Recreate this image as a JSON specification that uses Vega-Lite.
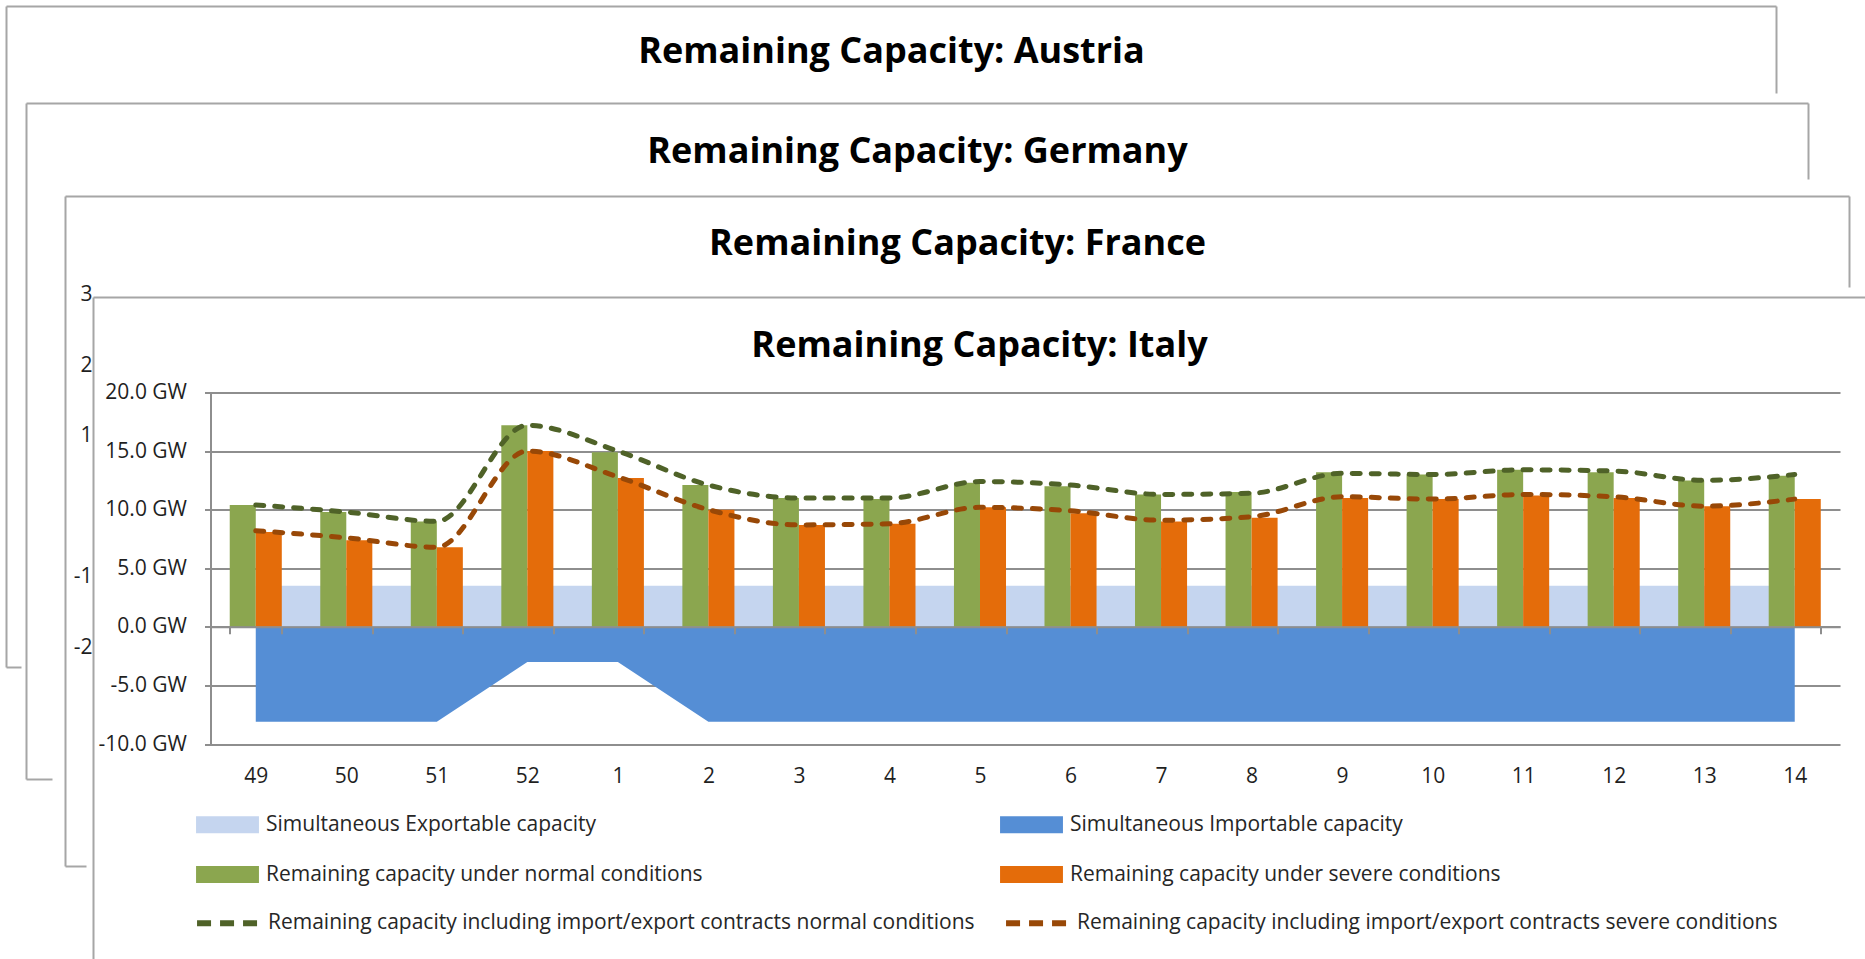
{
  "$schema": "https://vega.github.io/schema/vega-lite/v6.json",
  "autosize": {"type": "none"},
  "padding": {"left": 210.5, "top": 392.5, "right": 25, "bottom": 215},
  "width": 1629.5,
  "height": 351.5,
  "background": "white",
  "config": {"font": "Open Sans", "view": {"stroke": null}},
  "datasets": {
    "italy": [
      {"week": "49", "Simultaneous Exportable capacity": 3.5, "Simultaneous Importable capacity": -8.1, "Remaining capacity under normal conditions": 10.4, "Remaining capacity under severe conditions": 8.1, "Remaining capacity including import/export contracts normal conditions": 10.4, "Remaining capacity including import/export contracts severe conditions": 8.2},
      {"week": "50", "Simultaneous Exportable capacity": 3.5, "Simultaneous Importable capacity": -8.1, "Remaining capacity under normal conditions": 9.8, "Remaining capacity under severe conditions": 7.4, "Remaining capacity including import/export contracts normal conditions": 9.8, "Remaining capacity including import/export contracts severe conditions": 7.6},
      {"week": "51", "Simultaneous Exportable capacity": 3.5, "Simultaneous Importable capacity": -8.1, "Remaining capacity under normal conditions": 9.0, "Remaining capacity under severe conditions": 6.8, "Remaining capacity including import/export contracts normal conditions": 9.0, "Remaining capacity including import/export contracts severe conditions": 6.8},
      {"week": "52", "Simultaneous Exportable capacity": 3.5, "Simultaneous Importable capacity": -3.0, "Remaining capacity under normal conditions": 17.2, "Remaining capacity under severe conditions": 15.0, "Remaining capacity including import/export contracts normal conditions": 17.2, "Remaining capacity including import/export contracts severe conditions": 15.0},
      {"week": "1", "Simultaneous Exportable capacity": 3.5, "Simultaneous Importable capacity": -3.0, "Remaining capacity under normal conditions": 14.9, "Remaining capacity under severe conditions": 12.7, "Remaining capacity including import/export contracts normal conditions": 15.0, "Remaining capacity including import/export contracts severe conditions": 12.8},
      {"week": "2", "Simultaneous Exportable capacity": 3.5, "Simultaneous Importable capacity": -8.1, "Remaining capacity under normal conditions": 12.1, "Remaining capacity under severe conditions": 10.0, "Remaining capacity including import/export contracts normal conditions": 12.1, "Remaining capacity including import/export contracts severe conditions": 10.0},
      {"week": "3", "Simultaneous Exportable capacity": 3.5, "Simultaneous Importable capacity": -8.1, "Remaining capacity under normal conditions": 11.0, "Remaining capacity under severe conditions": 8.7, "Remaining capacity including import/export contracts normal conditions": 11.0, "Remaining capacity including import/export contracts severe conditions": 8.7},
      {"week": "4", "Simultaneous Exportable capacity": 3.5, "Simultaneous Importable capacity": -8.1, "Remaining capacity under normal conditions": 10.9, "Remaining capacity under severe conditions": 8.8, "Remaining capacity including import/export contracts normal conditions": 11.0, "Remaining capacity including import/export contracts severe conditions": 8.8},
      {"week": "5", "Simultaneous Exportable capacity": 3.5, "Simultaneous Importable capacity": -8.1, "Remaining capacity under normal conditions": 12.3, "Remaining capacity under severe conditions": 10.2, "Remaining capacity including import/export contracts normal conditions": 12.4, "Remaining capacity including import/export contracts severe conditions": 10.2},
      {"week": "6", "Simultaneous Exportable capacity": 3.5, "Simultaneous Importable capacity": -8.1, "Remaining capacity under normal conditions": 12.0, "Remaining capacity under severe conditions": 9.7, "Remaining capacity including import/export contracts normal conditions": 12.1, "Remaining capacity including import/export contracts severe conditions": 9.9},
      {"week": "7", "Simultaneous Exportable capacity": 3.5, "Simultaneous Importable capacity": -8.1, "Remaining capacity under normal conditions": 11.3, "Remaining capacity under severe conditions": 9.0, "Remaining capacity including import/export contracts normal conditions": 11.3, "Remaining capacity including import/export contracts severe conditions": 9.1},
      {"week": "8", "Simultaneous Exportable capacity": 3.5, "Simultaneous Importable capacity": -8.1, "Remaining capacity under normal conditions": 11.5, "Remaining capacity under severe conditions": 9.3, "Remaining capacity including import/export contracts normal conditions": 11.4, "Remaining capacity including import/export contracts severe conditions": 9.4},
      {"week": "9", "Simultaneous Exportable capacity": 3.5, "Simultaneous Importable capacity": -8.1, "Remaining capacity under normal conditions": 13.2, "Remaining capacity under severe conditions": 11.0, "Remaining capacity including import/export contracts normal conditions": 13.1, "Remaining capacity including import/export contracts severe conditions": 11.1},
      {"week": "10", "Simultaneous Exportable capacity": 3.5, "Simultaneous Importable capacity": -8.1, "Remaining capacity under normal conditions": 13.0, "Remaining capacity under severe conditions": 10.9, "Remaining capacity including import/export contracts normal conditions": 13.0, "Remaining capacity including import/export contracts severe conditions": 10.9},
      {"week": "11", "Simultaneous Exportable capacity": 3.5, "Simultaneous Importable capacity": -8.1, "Remaining capacity under normal conditions": 13.4, "Remaining capacity under severe conditions": 11.2, "Remaining capacity including import/export contracts normal conditions": 13.4, "Remaining capacity including import/export contracts severe conditions": 11.3},
      {"week": "12", "Simultaneous Exportable capacity": 3.5, "Simultaneous Importable capacity": -8.1, "Remaining capacity under normal conditions": 13.2, "Remaining capacity under severe conditions": 11.0, "Remaining capacity including import/export contracts normal conditions": 13.3, "Remaining capacity including import/export contracts severe conditions": 11.1},
      {"week": "13", "Simultaneous Exportable capacity": 3.5, "Simultaneous Importable capacity": -8.1, "Remaining capacity under normal conditions": 12.5, "Remaining capacity under severe conditions": 10.3, "Remaining capacity including import/export contracts normal conditions": 12.5, "Remaining capacity including import/export contracts severe conditions": 10.3},
      {"week": "14", "Simultaneous Exportable capacity": 3.5, "Simultaneous Importable capacity": -8.1, "Remaining capacity under normal conditions": 12.9, "Remaining capacity under severe conditions": 10.9, "Remaining capacity including import/export contracts normal conditions": 13.0, "Remaining capacity including import/export contracts severe conditions": 10.9}
    ]
  },
  "layer": [
    {
      "data": {"values": []},
      "mark": "point",
      "encoding": {
        "x": {"field": "a", "type": "quantitative", "scale": {"domain": [0, 1], "range": [-204.5, 1565.5]},
          "axis": {"orient": "top", "offset": 386.5, "domain": true, "domainColor": "#a6a6a6", "domainWidth": 2, "ticks": false, "labels": false, "grid": false,
            "title": "Remaining Capacity: Austria", "titleFont": "Open Sans", "titleFontWeight": "bold", "titleFontSize": 36, "titleColor": "#000000", "titleBaseline": "middle", "titleAlign": "center", "titleAnchor": "middle", "titleY": 45}},
        "y": {"field": "b", "type": "quantitative", "scale": {"domain": [0, 1], "range": [274.5, -386.5]},
          "axis": {"orient": "left", "offset": 204.5, "domain": true, "domainColor": "#a6a6a6", "domainWidth": 2, "ticks": false, "labels": false, "grid": false, "title": null}}
      }
    },
    {
      "data": {"values": []},
      "mark": "point",
      "encoding": {
        "x": {"field": "a", "type": "quantitative", "scale": {"domain": [0, 1], "range": [-204.5, -189.5]},
          "axis": {"orient": "top", "offset": -274.5, "domain": true, "domainColor": "#a6a6a6", "domainWidth": 2, "ticks": false, "labels": false, "grid": false, "title": null}},
        "y": {"field": "b", "type": "quantitative", "scale": {"domain": [0, 1], "range": [-299.5, -386.5]},
          "axis": {"orient": "left", "offset": -1565.5, "domain": true, "domainColor": "#a6a6a6", "domainWidth": 2, "ticks": false, "labels": false, "grid": false, "title": null}}
      }
    },
    {
      "data": {"values": []},
      "mark": "point",
      "encoding": {
        "x": {"field": "a", "type": "quantitative", "scale": {"domain": [0, 1], "range": [-184.5, 1597.5]},
          "axis": {"orient": "top", "offset": 289.5, "domain": true, "domainColor": "#a6a6a6", "domainWidth": 2, "ticks": false, "labels": false, "grid": false,
            "title": "Remaining Capacity: Germany", "titleFont": "Open Sans", "titleFontWeight": "bold", "titleFontSize": 36, "titleColor": "#000000", "titleBaseline": "middle", "titleAlign": "center", "titleAnchor": "middle", "titleY": 48}},
        "y": {"field": "b", "type": "quantitative", "scale": {"domain": [0, 1], "range": [386.5, -289.5]},
          "axis": {"orient": "left", "offset": 184.5, "domain": true, "domainColor": "#a6a6a6", "domainWidth": 2, "ticks": false, "labels": false, "grid": false, "title": null}}
      }
    },
    {
      "data": {"values": []},
      "mark": "point",
      "encoding": {
        "x": {"field": "a", "type": "quantitative", "scale": {"domain": [0, 1], "range": [-184.5, -158.5]},
          "axis": {"orient": "top", "offset": -386.5, "domain": true, "domainColor": "#a6a6a6", "domainWidth": 2, "ticks": false, "labels": false, "grid": false, "title": null}},
        "y": {"field": "b", "type": "quantitative", "scale": {"domain": [0, 1], "range": [-213.5, -289.5]},
          "axis": {"orient": "left", "offset": -1597.5, "domain": true, "domainColor": "#a6a6a6", "domainWidth": 2, "ticks": false, "labels": false, "grid": false, "title": null}}
      }
    },
    {
      "data": {"values": []},
      "mark": "point",
      "encoding": {
        "x": {"field": "a", "type": "quantitative", "scale": {"domain": [0, 1], "range": [-145.5, 1638.5]},
          "axis": {"orient": "top", "offset": 196.5, "domain": true, "domainColor": "#a6a6a6", "domainWidth": 2, "ticks": false, "labels": false, "grid": false,
            "title": "Remaining Capacity: France", "titleFont": "Open Sans", "titleFontWeight": "bold", "titleFontSize": 36, "titleColor": "#000000", "titleBaseline": "middle", "titleAlign": "center", "titleAnchor": "middle", "titleY": 47}},
        "y": {"field": "b", "type": "quantitative", "scale": {"domain": [-51.1, 44.06], "range": [473.5, -196.5], "nice": false, "zero": false},
          "axis": {"orient": "left", "offset": 145.5, "domain": true, "domainColor": "#a6a6a6", "domainWidth": 2, "ticks": false, "tickSize": 0, "grid": false, "title": null,
            "values": [-20, -10, 10, 20, 30],
            "labelExpr": "datum.value < 0 ? '-' + slice(format(abs(datum.value), '.1f'), 0, 1) : slice(format(datum.value, '.1f'), 0, 1)",
            "labelAlign": "right", "labelPadding": -27, "labelFontSize": 21, "labelColor": "#1f1f1f", "labelOverlap": false}}
      }
    },
    {
      "data": {"values": []},
      "mark": "point",
      "encoding": {
        "x": {"field": "a", "type": "quantitative", "scale": {"domain": [0, 1], "range": [-145.5, -124.5]},
          "axis": {"orient": "top", "offset": -473.5, "domain": true, "domainColor": "#a6a6a6", "domainWidth": 2, "ticks": false, "labels": false, "grid": false, "title": null}},
        "y": {"field": "b", "type": "quantitative", "scale": {"domain": [0, 1], "range": [-105.5, -196.5]},
          "axis": {"orient": "left", "offset": -1638.5, "domain": true, "domainColor": "#a6a6a6", "domainWidth": 2, "ticks": false, "labels": false, "grid": false, "title": null}}
      }
    },
    {
      "data": {"values": []},
      "mark": "point",
      "encoding": {
        "x": {"field": "a", "type": "quantitative", "scale": {"domain": [0, 1], "range": [-117.5, 1654.5]},
          "axis": {"orient": "top", "offset": 95.5, "domain": true, "domainColor": "#a6a6a6", "domainWidth": 2, "ticks": false, "labels": false, "grid": false,
            "title": "Remaining Capacity: Italy", "titleFont": "Open Sans", "titleFontWeight": "bold", "titleFontSize": 36, "titleColor": "#000000", "titleBaseline": "middle", "titleAlign": "center", "titleAnchor": "middle", "titleY": 48}},
        "y": {"field": "b", "type": "quantitative", "scale": {"domain": [0, 1], "range": [600, -95.5]},
          "axis": {"orient": "left", "offset": 117.5, "domain": true, "domainColor": "#a6a6a6", "domainWidth": 2, "ticks": false, "labels": false, "grid": false, "title": null}}
      }
    },
    {
      "data": {"name": "italy"},
      "transform": [
        {"fold": ["Simultaneous Exportable capacity", "Simultaneous Importable capacity", "Remaining capacity under normal conditions", "Remaining capacity under severe conditions", "Remaining capacity including import/export contracts normal conditions", "Remaining capacity including import/export contracts severe conditions"], "as": ["series", "value"]}
      ],
      "encoding": {
        "x": {
          "field": "week", "type": "ordinal",
          "scale": {"domain": ["49", "50", "51", "52", "1", "2", "3", "4", "5", "6", "7", "8", "9", "10", "11", "12", "13", "14"], "paddingInner": 0.425, "paddingOuter": 0.2125},
          "axis": {"orient": "bottom", "offset": -117.2, "tickBand": "extent", "title": null, "labelAngle": 0, "domainColor": "#8e8e8e", "domainWidth": 2, "tickColor": "#8e8e8e", "tickWidth": 2, "tickSize": 7, "labelPadding": 132, "labelFontSize": 21, "labelColor": "#1f1f1f", "grid": false, "zindex": 1}
        },
        "y": {
          "field": "value", "type": "quantitative", "stack": null,
          "scale": {"domain": [-10, 20], "nice": false, "zero": false},
          "axis": {"orient": "left", "values": [-10, -5, 0, 5, 10, 15, 20], "labelExpr": "(datum.value < 0 ? '-' : '') + format(abs(datum.value), '.1f') + ' GW'", "title": null, "grid": true, "gridColor": "#8e8e8e", "gridWidth": 2, "domainColor": "#8e8e8e", "domainWidth": 2, "tickColor": "#8e8e8e", "tickWidth": 2, "tickSize": 6, "labelPadding": 18, "labelFontSize": 21, "labelColor": "#1f1f1f"}
        }
      },
      "layer": [
        {
          "transform": [{"filter": "datum.series === 'Simultaneous Exportable capacity'"}],
          "mark": {"type": "area", "opacity": 1},
          "encoding": {"fill": {"field": "series", "type": "nominal",
            "scale": {"domain": ["Simultaneous Exportable capacity", "Simultaneous Importable capacity", "Remaining capacity under normal conditions", "Remaining capacity under severe conditions"], "range": ["#c5d5ef", "#558ed5", "#8ba64f", "#e46c0a"]},
            "legend": {"orient": "none", "legendX": 6.5, "legendY": 421.5, "direction": "horizontal", "columns": 2, "title": null, "padding": 0,
              "symbolType": "M-3.7,-1H3.7V1H-3.7Z", "symbolSize": 289, "symbolStrokeWidth": 0, "symbolOpacity": 1,
              "labelFontSize": 21, "labelColor": "#262626", "labelLimit": 1000, "labelOffset": 28, "rowPadding": 28, "columnPadding": 297}}}
        },
        {
          "transform": [{"filter": "datum.series === 'Simultaneous Importable capacity'"}],
          "mark": {"type": "area", "opacity": 1},
          "encoding": {"fill": {"field": "series", "type": "nominal"}}
        },
        {
          "transform": [{"filter": "datum.series === 'Remaining capacity under normal conditions' || datum.series === 'Remaining capacity under severe conditions'"}],
          "mark": {"type": "bar", "opacity": 1},
          "encoding": {
            "fill": {"field": "series", "type": "nominal"},
            "xOffset": {"field": "series", "type": "nominal", "scale": {"domain": ["Remaining capacity under normal conditions", "Remaining capacity under severe conditions"], "paddingInner": 0, "paddingOuter": 0}}
          }
        },
        {
          "transform": [{"filter": "indexof(datum.series, 'including') >= 0"}],
          "mark": {"type": "line", "strokeWidth": 5, "strokeDash": [8, 11], "strokeCap": "round", "interpolate": "monotone", "opacity": 1},
          "encoding": {"stroke": {"field": "series", "type": "nominal",
            "scale": {"domain": ["Remaining capacity including import/export contracts normal conditions", "Remaining capacity including import/export contracts severe conditions"], "range": ["#4f6228", "#984807"]},
            "legend": {"orient": "none", "legendX": 6.5, "legendY": 519, "direction": "horizontal", "columns": 2, "title": null, "padding": 0,
              "symbolType": "M-3.7,0H3.7", "symbolSize": 289, "symbolStrokeWidth": 6, "symbolDash": [14, 9], "symbolFillColor": "transparent", "symbolOpacity": 1,
              "labelFontSize": 21, "labelColor": "#262626", "labelLimit": 1000, "labelOffset": 28, "columnPadding": 19}}}
        }
      ]
    }
  ],
  "resolve": {"scale": {"x": "independent", "y": "independent"}, "axis": {"x": "independent", "y": "independent"}}
}
